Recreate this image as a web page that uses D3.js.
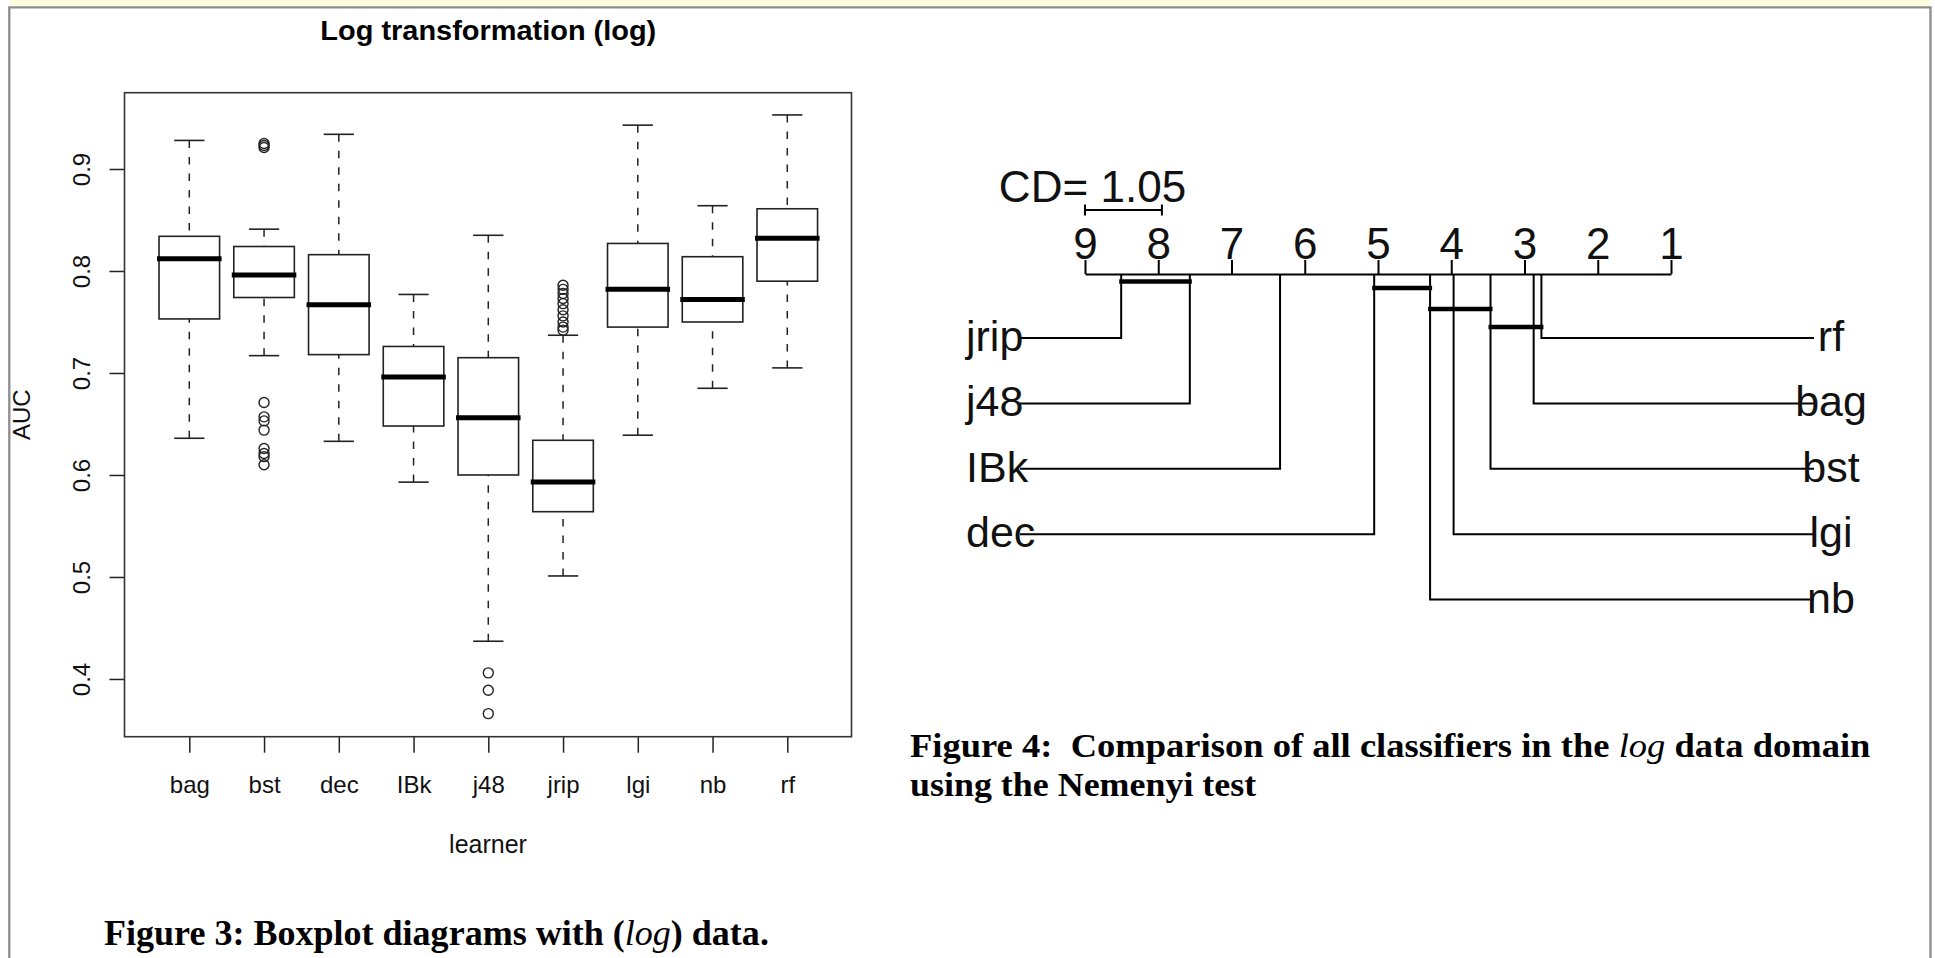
<!DOCTYPE html>
<html><head><meta charset="utf-8">
<script src="https://cdn.jsdelivr.net/npm/d3@7"></script>
<style>
html,body{margin:0;padding:0;background:#fff;overflow:hidden}
text{white-space:pre}
</style></head>
<body><svg id="c" width="1935" height="958"></svg>
<script>
// ---------- data: boxplot (AUC by learner) ----------
const learners = ["bag","bst","dec","IBk","j48","jrip","lgi","nb","rf"];
const whiskerLow  = [0.636,0.717,0.633,0.593,0.437,0.501,0.639,0.685,0.705];
const q1          = [0.753,0.774,0.718,0.648,0.600,0.564,0.745,0.750,0.790];
const medians     = [0.812,0.796,0.767,0.696,0.656,0.593,0.782,0.772,0.832];
const q3          = [0.834,0.824,0.816,0.726,0.715,0.634,0.827,0.814,0.861];
const whiskerHigh = [0.928,0.841,0.934,0.777,0.835,0.737,0.943,0.864,0.953];
const outliers = [
  [],
  [0.925,0.923,0.921,0.671,0.657,0.653,0.644,0.626,0.621,0.618,0.610],
  [],
  [],
  [0.406,0.389,0.366],
  [0.786,0.782,0.778,0.773,0.768,0.762,0.756,0.750,0.745,0.742],
  [],
  [],
  []
];
const yTicks = [0.4,0.5,0.6,0.7,0.8,0.9];

// ---------- data: critical difference diagram ----------
const cdLearners = ["rf","bag","bst","lgi","nb","dec","IBk","j48","jrip"];
const cdRanks    = [2.769,2.875,3.464,3.968,4.289,5.052,6.337,7.569,8.506];
const cdRightLabels = ["rf","bag","bst","lgi","nb"];
const cdLeftLabels  = ["jrip","j48","IBk","dec"];
const cliques = [["jrip","j48"],["dec","nb"],["nb","lgi","bst"],["bst","bag","rf"]];
const rankTicks = [9,8,7,6,5,4,3,2,1];
const cdValue = 1.05;

// ---------- drawing ----------
const svg = d3.select("#c");
const SANS = "'Liberation Sans', Arial, Helvetica, sans-serif";
const SERIF = "'Liberation Serif', 'Times New Roman', serif";

function fit(t, x0, y0, w) {
  const bw = t.node().getBBox().width;
  t.attr("x", 0).attr("y", 0)
   .attr("transform", `translate(${x0},${y0}) scale(${w / bw},1)`);
}

// page frame
svg.append("rect").attr("x", 10).attr("y", 0).attr("width", 1920).attr("height", 6.5).attr("fill", "#fffde0");
svg.append("path").attr("d", "M9.3,958V7.3H1930.5V958").attr("fill", "none")
  .attr("stroke", "#8c8c8c").attr("stroke-width", 2.3);

// ---- left: boxplot ----
const x = d3.scaleLinear().domain([0.133, 9.859]).range([124.5, 851.5]);
const y = d3.scaleLinear().domain([0.3434, 0.9748]).range([736.7, 92.7]);
const hw = (x(2) - x(1)) * 0.405;
const ink = "#222";

const gb = svg.append("g");
learners.forEach((name, i) => {
  const cx = x(i + 1);
  const g = gb.append("g");
  // whiskers (from whisker end to box)
  [[whiskerHigh[i], q3[i]], [whiskerLow[i], q1[i]]].forEach(([a, b]) => {
    g.append("line").attr("x1", cx).attr("x2", cx).attr("y1", y(a)).attr("y2", y(b))
      .attr("stroke", ink).attr("stroke-width", 1.5).attr("stroke-dasharray", "7.5,9");
    g.append("line").attr("x1", cx - hw / 2).attr("x2", cx + hw / 2).attr("y1", y(a)).attr("y2", y(a))
      .attr("stroke", ink).attr("stroke-width", 1.6);
  });
  g.append("rect").attr("x", cx - hw).attr("y", y(q3[i])).attr("width", 2 * hw)
    .attr("height", y(q1[i]) - y(q3[i])).attr("fill", "#fff").attr("stroke", ink).attr("stroke-width", 1.6);
  g.append("line").attr("x1", cx - hw - 2).attr("x2", cx + hw + 2).attr("y1", y(medians[i])).attr("y2", y(medians[i]))
    .attr("stroke", "#000").attr("stroke-width", 5);
  outliers[i].forEach(v => {
    g.append("circle").attr("cx", cx).attr("cy", y(v)).attr("r", 5)
      .attr("fill", "none").attr("stroke", ink).attr("stroke-width", 1.4);
  });
});

// y axis
const ya = svg.append("g").attr("transform", "translate(124.5,0)")
  .call(d3.axisLeft(y).tickValues(yTicks).tickSize(15).tickFormat(d3.format(".1f")));
ya.select(".domain").remove();
ya.selectAll(".tick line").attr("stroke", ink).attr("stroke-width", 1.5);
ya.selectAll(".tick text").attr("x", 0).attr("dy", 0)
  .attr("transform", "translate(-35,0) rotate(-90)").attr("text-anchor", "middle")
  .attr("font-family", SANS).attr("font-size", 24).attr("fill", "#111");

// x axis
const xa = svg.append("g").attr("transform", "translate(0,736.7)")
  .call(d3.axisBottom(x).tickValues(d3.range(1, learners.length + 1)).tickSize(16)
    .tickFormat(i => learners[i - 1]));
xa.select(".domain").remove();
xa.selectAll(".tick line").attr("stroke", ink).attr("stroke-width", 1.5);
xa.selectAll(".tick text").attr("y", 56.5).attr("dy", 0)
  .attr("font-family", SANS).attr("font-size", 24).attr("fill", "#111");

// plot frame
svg.append("rect").attr("x", 124.5).attr("y", 92.7).attr("width", 727).attr("height", 644)
  .attr("fill", "none").attr("stroke", "#333").attr("stroke-width", 1.6);

// titles
const title = svg.append("text").text("Log transformation (log)").attr("text-anchor", "middle")
  .attr("font-family", SANS).attr("font-weight", "bold").attr("font-size", 28).attr("fill", "#000");
fit(title, 488.3, 39.5, 336);
svg.append("text").text("AUC").attr("transform", "translate(30,414.7) rotate(-90)")
  .attr("text-anchor", "middle").attr("font-family", SANS).attr("font-size", 24).attr("fill", "#111");
svg.append("text").text("learner").attr("x", 488).attr("y", 853)
  .attr("text-anchor", "middle").attr("font-family", SANS).attr("font-size", 25).attr("fill", "#111");

// caption figure 3
const cap3 = svg.append("text").attr("font-family", SERIF).attr("font-size", 35).attr("font-weight", "bold").attr("fill", "#000");
cap3.append("tspan").text("Figure 3: Boxplot diagrams with (");
cap3.append("tspan").text("log").attr("font-style", "italic").attr("font-weight", "normal");
cap3.append("tspan").text(") data.");
fit(cap3, 104, 945, 665);

// ---- right: CD diagram ----
const r = d3.scaleLinear().domain([9, 1]).range([1085, 1671]);
const axisY = 274;
const rankOf = name => cdRanks[cdLearners.indexOf(name)];
const lineY = i => 338 + i * 65.4;

const ra = svg.append("g").attr("transform", `translate(0,${axisY})`)
  .call(d3.axisTop(r).tickValues(rankTicks).tickSize(14).tickSizeOuter(0).tickFormat(d3.format("d")));
ra.select(".domain").attr("stroke", "#000").attr("stroke-width", 2);
ra.selectAll(".tick line").attr("stroke", "#000").attr("stroke-width", 2);
ra.selectAll(".tick text").attr("y", -15).attr("dy", 0)
  .attr("font-family", SANS).attr("font-size", 44).attr("fill", "#111");

// CD bar
const cdx0 = r(9), cdx1 = r(9 - cdValue);
const cdg = svg.append("g").attr("stroke", "#000").attr("stroke-width", 2);
cdg.append("line").attr("x1", cdx0).attr("x2", cdx1).attr("y1", 210).attr("y2", 210);
cdg.append("line").attr("x1", cdx0).attr("x2", cdx0).attr("y1", 204.5).attr("y2", 215.5);
cdg.append("line").attr("x1", cdx1).attr("x2", cdx1).attr("y1", 204.5).attr("y2", 215.5);
const cdt = svg.append("text").text(`CD= ${cdValue.toFixed(2)}`)
  .attr("font-family", SANS).attr("font-size", 44).attr("fill", "#111");
fit(cdt, 998.8, 201.7, 187.5);

// rank lines and labels
cdRightLabels.forEach((name, i) => {
  const xr = r(rankOf(name));
  svg.append("path").attr("d", `M${xr},${axisY}V${lineY(i)}H1814`)
    .attr("fill", "none").attr("stroke", "#000").attr("stroke-width", 2);
  svg.append("text").text(name).attr("x", 1831).attr("y", lineY(i) + 13)
    .attr("text-anchor", "middle").attr("font-family", SANS).attr("font-size", 43).attr("fill", "#111");
});
cdLeftLabels.forEach((name, i) => {
  const xr = r(rankOf(name));
  svg.append("path").attr("d", `M${xr},${axisY}V${lineY(i)}H1020`)
    .attr("fill", "none").attr("stroke", "#000").attr("stroke-width", 2);
  svg.append("text").text(name).attr("x", 966).attr("y", lineY(i) + 13)
    .attr("text-anchor", "start").attr("font-family", SANS).attr("font-size", 43).attr("fill", "#111");
});

// cliques
const cliqueY = [281.5, 288, 309, 327];
cliques.forEach((members, k) => {
  const rs = members.map(rankOf);
  svg.append("line").attr("x1", r(d3.max(rs)) - 2).attr("x2", r(d3.min(rs)) + 2)
    .attr("y1", cliqueY[k]).attr("y2", cliqueY[k])
    .attr("stroke", "#000").attr("stroke-width", 4.5);
});

// caption figure 4
const cap4a = svg.append("text").attr("font-family", SERIF).attr("font-size", 34).attr("font-weight", "bold").attr("fill", "#000");
cap4a.append("tspan").text("Figure 4:  Comparison of all classifiers in the ");
cap4a.append("tspan").text("log").attr("font-style", "italic").attr("font-weight", "normal");
cap4a.append("tspan").text(" data domain");
fit(cap4a, 910, 757, 961);
const cap4b = svg.append("text").text("using the Nemenyi test").attr("font-family", SERIF)
  .attr("font-size", 34).attr("font-weight", "bold").attr("fill", "#000");
fit(cap4b, 910, 796, 347);
</script>
</body></html>
